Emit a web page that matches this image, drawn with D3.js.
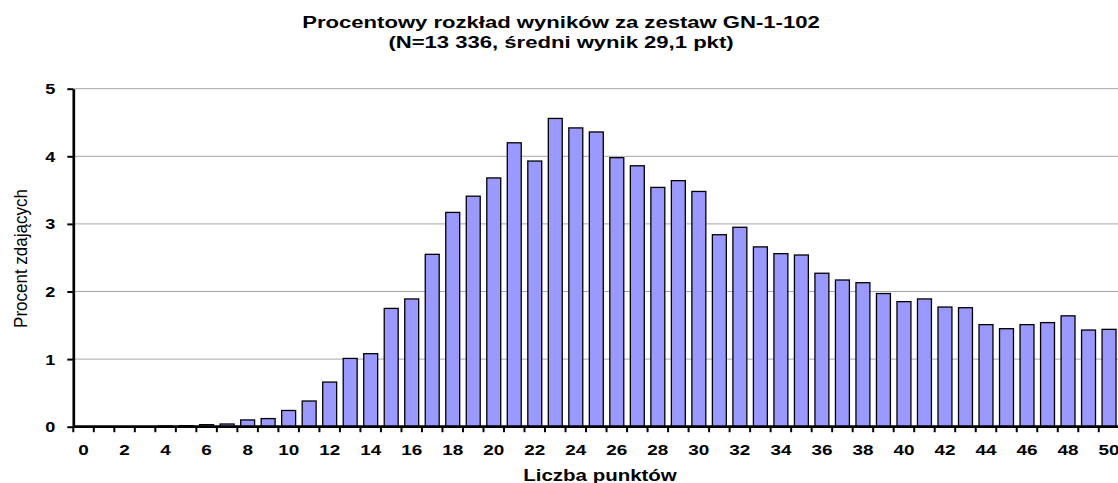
<!DOCTYPE html>
<html>
<head>
<meta charset="utf-8">
<script src="https://cdn.jsdelivr.net/npm/d3@7"></script>
<style>
  html, body { margin: 0; padding: 0; background: #FFFFFF; }
  #chart { width: 1118px; height: 483px; overflow: hidden; }
  text { font-family: "Liberation Sans", Arial, sans-serif; fill: #000; }
</style>
</head>
<body>
<div id="chart"></div>
<script>
const titleLines = ["Procentowy rozkład wyników za zestaw GN-1-102", "(N=13 336, średni wynik 29,1 pkt)"];
const xTitle = "Liczba punktów";
const yTitle = "Procent zdających";

// liczba punktów 0..50
const scores = d3.range(0, 51);
// procent zdających dla każdego wyniku
const percents = [
  0, 0, 0, 0, 0.01, 0.015, 0.03, 0.04, 0.1, 0.12,
  0.24, 0.38, 0.66, 1.01, 1.08, 1.75, 1.89, 2.55, 3.17, 3.41,
  3.68, 4.2, 3.93, 4.56, 4.42, 4.36, 3.98, 3.86, 3.54, 3.64,
  3.48, 2.84, 2.95, 2.66, 2.56, 2.54, 2.27, 2.17, 2.13, 1.97,
  1.85, 1.89, 1.77, 1.76, 1.51, 1.45, 1.51, 1.54, 1.64, 1.43,
  1.44
];
const xTickLabels = [0, 2, 4, 6, 8, 10, 12, 14, 16, 18, 20, 22, 24, 26, 28, 30, 32, 34, 36, 38, 40, 42, 44, 46, 48, 50];
const yTickValues = [0, 1, 2, 3, 4, 5];

const width = 1118, height = 483;
const plotLeft = 73.3, plotRight = 1119.3, plotTop = 88.7, plotBottom = 426.7;

const svg = d3.select("#chart")
  .append("svg")
  .attr("width", width)
  .attr("height", height)
  .attr("viewBox", `0 0 ${width} ${height}`);

const x = d3.scaleBand()
  .domain(scores)
  .range([plotLeft, plotRight])
  .paddingInner(0.32)
  .paddingOuter(0.16);

const y = d3.scaleLinear()
  .domain([0, 5])
  .range([plotBottom, plotTop]);

// gridlines
svg.append("g")
  .selectAll("line")
  .data(yTickValues.filter(d => d > 0))
  .enter()
  .append("line")
  .attr("x1", plotLeft)
  .attr("x2", plotRight)
  .attr("y1", d => y(d))
  .attr("y2", d => y(d))
  .attr("stroke", "#a6a6a6")
  .attr("stroke-width", 1);

// bars
const data = scores.map((s, i) => ({ score: s, value: percents[i] }));
svg.append("g")
  .selectAll("rect")
  .data(data.filter(d => d.value > 0))
  .enter()
  .append("rect")
  .attr("x", d => x(d.score))
  .attr("width", x.bandwidth())
  .attr("y", d => y(d.value))
  .attr("height", d => y(0) - y(d.value))
  .attr("fill", "#9999FF")
  .attr("stroke", "#000")
  .attr("stroke-width", 1.3);

// y axis
const yAxis = svg.append("g")
  .attr("transform", `translate(${plotLeft},0)`)
  .call(d3.axisLeft(y).tickValues(yTickValues).tickSize(6).tickSizeOuter(0).tickFormat(d3.format("d")));
yAxis.select(".domain").attr("stroke", "#000").attr("stroke-width", 2.7);
yAxis.selectAll(".tick line").attr("stroke", "#000").attr("stroke-width", 2);
yAxis.selectAll(".tick text")
  .attr("x", 0)
  .attr("dy", "0.36em")
  .attr("transform", "translate(-18,0) scale(1.29,1)")
  .style("font-size", "14px")
  .style("font-weight", "bold")
  .attr("text-anchor", "end");

// x axis: labels at category centres
const xAxis = svg.append("g")
  .attr("transform", `translate(0,${plotBottom})`)
  .call(d3.axisBottom(x).tickValues(xTickLabels).tickSize(0).tickSizeOuter(0));
xAxis.select(".domain").remove();
xAxis.selectAll(".tick line").remove();
xAxis.selectAll(".tick text")
  .attr("y", 28.3)
  .attr("dy", 0)
  .attr("transform", "scale(1.35,1)")
  .style("font-size", "14px")
  .style("font-weight", "bold");

// x axis line and boundary ticks
const boundaries = scores.map(s => x(s) - x.step() * x.paddingInner() / 2).concat([plotRight]);
svg.append("line")
  .attr("x1", plotLeft)
  .attr("x2", plotRight)
  .attr("y1", plotBottom)
  .attr("y2", plotBottom)
  .attr("stroke", "#000")
  .attr("stroke-width", 2.7);
svg.append("g")
  .selectAll("line")
  .data(boundaries)
  .enter()
  .append("line")
  .attr("x1", d => d)
  .attr("x2", d => d)
  .attr("y1", plotBottom)
  .attr("y2", plotBottom + 5.5)
  .attr("stroke", "#000")
  .attr("stroke-width", 2);

// titles
svg.append("g")
  .selectAll("text")
  .data(titleLines)
  .enter()
  .append("text")
  .attr("transform", (d, i) => `translate(561,${28 + i * 19.6}) scale(1.38,1)`)
  .attr("text-anchor", "middle")
  .style("font-size", "16px")
  .style("font-weight", "bold")
  .text(d => d);

svg.append("text")
  .attr("transform", "translate(600,480.8) scale(1.28,1)")
  .attr("text-anchor", "middle")
  .style("font-size", "16px")
  .style("font-weight", "bold")
  .text(xTitle);

svg.append("text")
  .attr("transform", "translate(26.7,258.5) rotate(-90) scale(1,1.1)")
  .attr("text-anchor", "middle")
  .style("font-size", "17px")
  .text(yTitle);
</script>
</body>
</html>
